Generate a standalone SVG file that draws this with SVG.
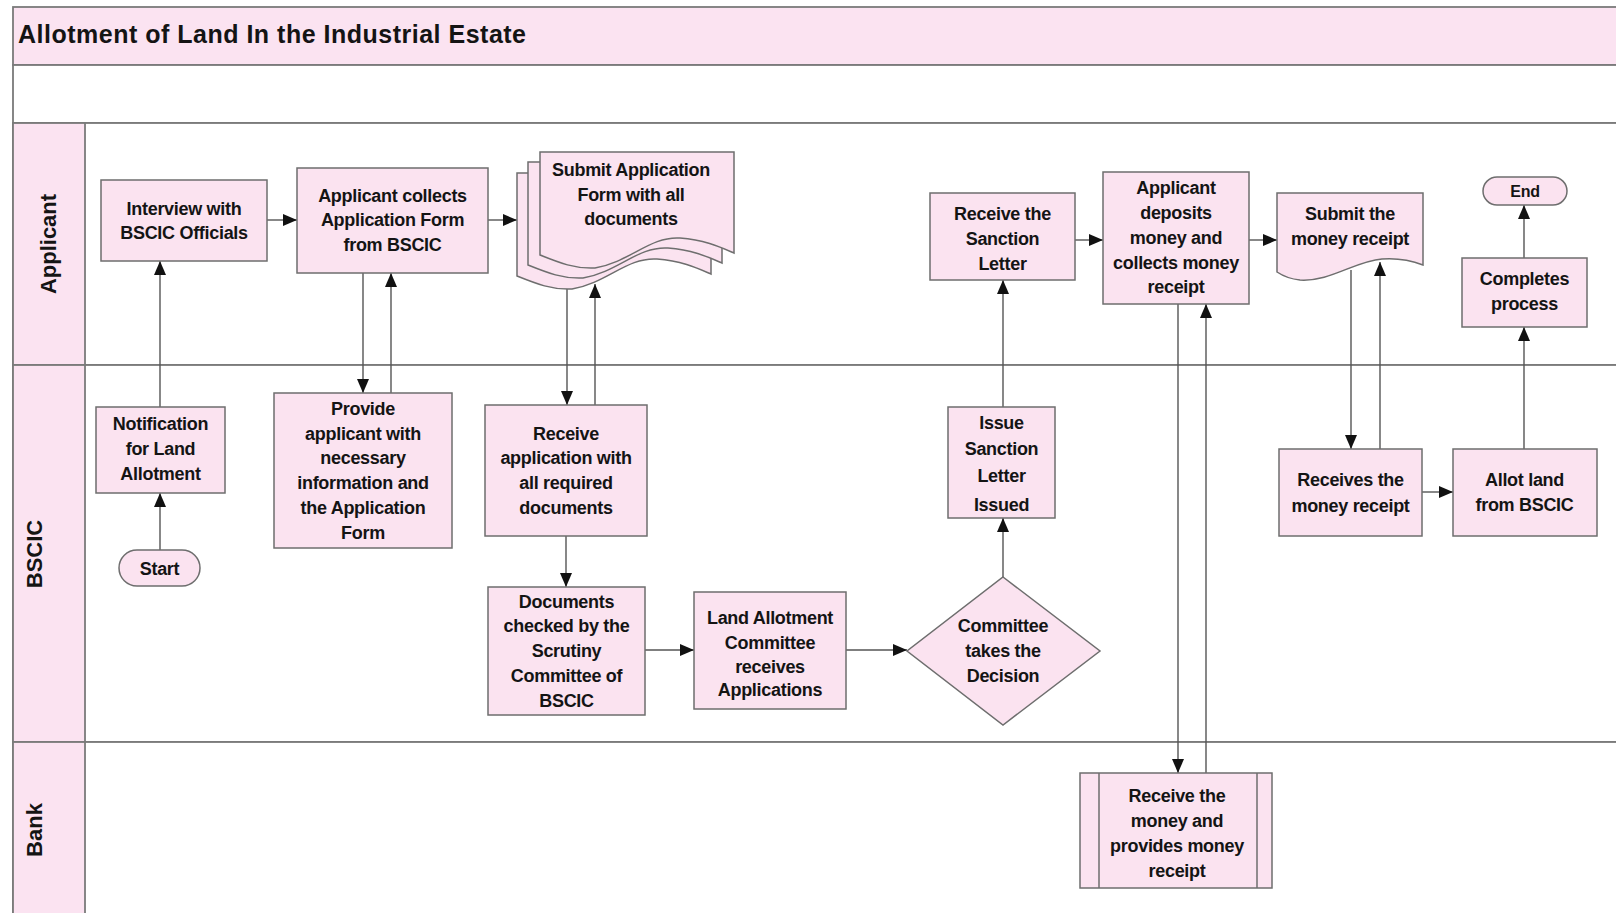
<svg xmlns="http://www.w3.org/2000/svg" width="1616" height="913" viewBox="0 0 1616 913">
<style>
.band{fill:#fbe3f1;stroke:#7a7a7a;stroke-width:1.8}
.lane{fill:#ffffff;stroke:#7a7a7a;stroke-width:1.8}
.node{fill:#fbe3f0;stroke:#6e6e6e;stroke-width:1.5}
.t{font-family:"Liberation Sans",Arial,sans-serif;font-weight:bold;font-size:18px;fill:#141414;text-anchor:middle;letter-spacing:-0.3px}
.lbl{font-family:"Liberation Sans",Arial,sans-serif;font-weight:bold;font-size:22px;fill:#141414;text-anchor:middle}
.title{font-family:"Liberation Sans",Arial,sans-serif;font-weight:bold;font-size:25px;fill:#141414;letter-spacing:0.5px}
.c{fill:none;stroke:#555;stroke-width:1.4;marker-end:url(#ah)}
</style>
<defs>
<marker id="ah" viewBox="0 0 14 12" refX="14" refY="6" markerWidth="14" markerHeight="12" markerUnits="userSpaceOnUse" orient="auto">
<path d="M0,0 L14,6 L0,12 Z" fill="#111"/>
</marker>
</defs>
<rect width="1616" height="913" fill="#ffffff"/>
<g id="frame">
<rect class="band" x="13" y="7" width="1620" height="58"/>
<rect class="lane" x="13" y="65" width="1620" height="58"/>
<rect class="lane" x="13" y="123" width="1620" height="242"/>
<rect class="lane" x="13" y="365" width="1620" height="377"/>
<rect class="lane" x="13" y="742" width="1620" height="190"/>
<rect class="band" x="13" y="123" width="72" height="242"/>
<rect class="band" x="13" y="365" width="72" height="377"/>
<rect class="band" x="13" y="742" width="72" height="190"/>
<text class="title" x="18" y="43">Allotment of Land In the Industrial Estate</text>
<text class="lbl" transform="translate(56,244) rotate(-90)">Applicant</text>
<text class="lbl" transform="translate(42,554) rotate(-90)">BSCIC</text>
<text class="lbl" transform="translate(42,830) rotate(-90)">Bank</text>
</g>
<g id="connectors">
<path class="c" d="M160,550 V493"/>
<path class="c" d="M160,407 V261"/>
<path class="c" d="M267,220 H297"/>
<path class="c" d="M363,273 V393"/>
<path class="c" d="M391,393 V273"/>
<path class="c" d="M488,220 H517"/>
<path class="c" d="M567,289 V405"/>
<path class="c" d="M595,405 V284"/>
<path class="c" d="M566,536 V587"/>
<path class="c" d="M644,650 H694"/>
<path class="c" d="M846,650 H907"/>
<path class="c" d="M1003,577 V518"/>
<path class="c" d="M1003,407 V280"/>
<path class="c" d="M1075,240 H1103"/>
<path class="c" d="M1178,304 V773"/>
<path class="c" d="M1206,773 V304"/>
<path class="c" d="M1249,240 H1277"/>
<path class="c" d="M1351,270 V449"/>
<path class="c" d="M1380,449 V262"/>
<path class="c" d="M1422,492 H1453"/>
<path class="c" d="M1524,449 V327"/>
<path class="c" d="M1524,258 V205"/>
</g>
<g id="start">
<rect class="node" x="119" y="550" width="81" height="36" rx="18"/>
<text class="t" x="159.5" y="574.5">Start</text>
</g>
<g id="notification">
<rect class="node" x="96" y="407" width="129" height="86"/>
<text class="t" x="160.5" y="430">Notification</text>
<text class="t" x="160.5" y="454.5">for Land</text>
<text class="t" x="160.5" y="479.5">Allotment</text>
</g>
<g id="interview">
<rect class="node" x="101" y="180" width="166" height="81"/>
<text class="t" x="184" y="214.5">Interview with</text>
<text class="t" x="184" y="238.5">BSCIC Officials</text>
</g>
<g id="collects">
<rect class="node" x="297" y="168" width="191" height="105"/>
<text class="t" x="392.5" y="201.5">Applicant collects</text>
<text class="t" x="392.5" y="226">Application Form</text>
<text class="t" x="392.5" y="250.5">from BSCIC</text>
</g>
<g id="provide">
<rect class="node" x="274" y="393" width="178" height="155"/>
<text class="t" x="363" y="414.5">Provide</text>
<text class="t" x="363" y="439.5">applicant with</text>
<text class="t" x="363" y="464">necessary</text>
<text class="t" x="363" y="488.5">information and</text>
<text class="t" x="363" y="513.5">the Application</text>
<text class="t" x="363" y="538.5">Form</text>
</g>
<g id="submit-application">
<path class="node" d="M517,173 H711 V274 C697,268 682,261 657,259 C627,257 607,283 572,289 C552,290 537,284 517,276 Z"/>
<path class="node" d="M528,162 H722 V263 C708,257 693,250 668,248 C638,246 618,272 583,278 C563,279 548,273 528,265 Z"/>
<path class="node" d="M540,152 H734 V253 C720,247 705,240 680,238 C650,236 630,262 595,268 C575,269 560,263 540,255 Z"/>
<text class="t" x="631" y="175.5">Submit Application</text>
<text class="t" x="631" y="200.5">Form with all</text>
<text class="t" x="631" y="225">documents</text>
</g>
<g id="receive-application">
<rect class="node" x="485" y="405" width="162" height="131"/>
<text class="t" x="566" y="439.5">Receive</text>
<text class="t" x="566" y="464">application with</text>
<text class="t" x="566" y="488.5">all required</text>
<text class="t" x="566" y="513.5">documents</text>
</g>
<g id="documents-checked">
<rect class="node" x="488" y="587" width="157" height="128"/>
<text class="t" x="566.5" y="607.5">Documents</text>
<text class="t" x="566.5" y="632">checked by the</text>
<text class="t" x="566.5" y="656.5">Scrutiny</text>
<text class="t" x="566.5" y="681.5">Committee of</text>
<text class="t" x="566.5" y="706.5">BSCIC</text>
</g>
<g id="land-committee">
<rect class="node" x="694" y="592" width="152" height="117"/>
<text class="t" x="770" y="623.5">Land Allotment</text>
<text class="t" x="770" y="648.5">Committee</text>
<text class="t" x="770" y="672.5">receives</text>
<text class="t" x="770" y="695.5">Applications</text>
</g>
<g id="decision">
<polygon class="node" points="1003,577 1100,651 1003,725 907,651"/>
<text class="t" x="1003" y="632">Committee</text>
<text class="t" x="1003" y="656.5">takes the</text>
<text class="t" x="1003" y="681.5">Decision</text>
</g>
<g id="issue-sanction">
<rect class="node" x="948" y="407" width="107" height="111"/>
<text class="t" x="1001.5" y="429">Issue</text>
<text class="t" x="1001.5" y="454.5">Sanction</text>
<text class="t" x="1001.5" y="481.5">Letter</text>
<text class="t" x="1001.5" y="510.5">Issued</text>
</g>
<g id="receive-sanction">
<rect class="node" x="930" y="193" width="145" height="87"/>
<text class="t" x="1002.5" y="219.5">Receive the</text>
<text class="t" x="1002.5" y="244.5">Sanction</text>
<text class="t" x="1002.5" y="269.5">Letter</text>
</g>
<g id="deposits">
<rect class="node" x="1103" y="172" width="146" height="132"/>
<text class="t" x="1176" y="194">Applicant</text>
<text class="t" x="1176" y="218.5">deposits</text>
<text class="t" x="1176" y="243.5">money and</text>
<text class="t" x="1176" y="268.5">collects money</text>
<text class="t" x="1176" y="293">receipt</text>
</g>
<g id="bank-receive">
<rect class="node" x="1080" y="773" width="192" height="115"/>
<line x1="1099" y1="773" x2="1099" y2="888" stroke="#6e6e6e" stroke-width="1.5"/>
<line x1="1257" y1="773" x2="1257" y2="888" stroke="#6e6e6e" stroke-width="1.5"/>
<text class="t" x="1177" y="802">Receive the</text>
<text class="t" x="1177" y="826.5">money and</text>
<text class="t" x="1177" y="851.5">provides money</text>
<text class="t" x="1177" y="876.5">receipt</text>
</g>
<g id="submit-receipt">
<path class="node" d="M1277,193 H1423 V265 C1410,260 1395,258 1382,259 C1355,261 1330,282 1300,280 C1290,279 1283,276 1277,272 Z"/>
<text class="t" x="1350" y="219.5">Submit the</text>
<text class="t" x="1350" y="244.5">money receipt</text>
</g>
<g id="receives-receipt">
<rect class="node" x="1279" y="449" width="143" height="87"/>
<text class="t" x="1350.5" y="485.5">Receives the</text>
<text class="t" x="1350.5" y="511.5">money receipt</text>
</g>
<g id="allot-land">
<rect class="node" x="1453" y="449" width="144" height="87"/>
<text class="t" x="1524.5" y="485.5">Allot  land</text>
<text class="t" x="1524.5" y="510.5">from BSCIC</text>
</g>
<g id="completes">
<rect class="node" x="1462" y="258" width="125" height="69"/>
<text class="t" x="1524.5" y="284.5">Completes</text>
<text class="t" x="1524.5" y="309.5">process</text>
</g>
<g id="end">
<rect class="node" x="1483" y="177" width="84" height="28" rx="14"/>
<text class="t" x="1525" y="196.5" style="font-size:16px">End</text>
</g>
</svg>
